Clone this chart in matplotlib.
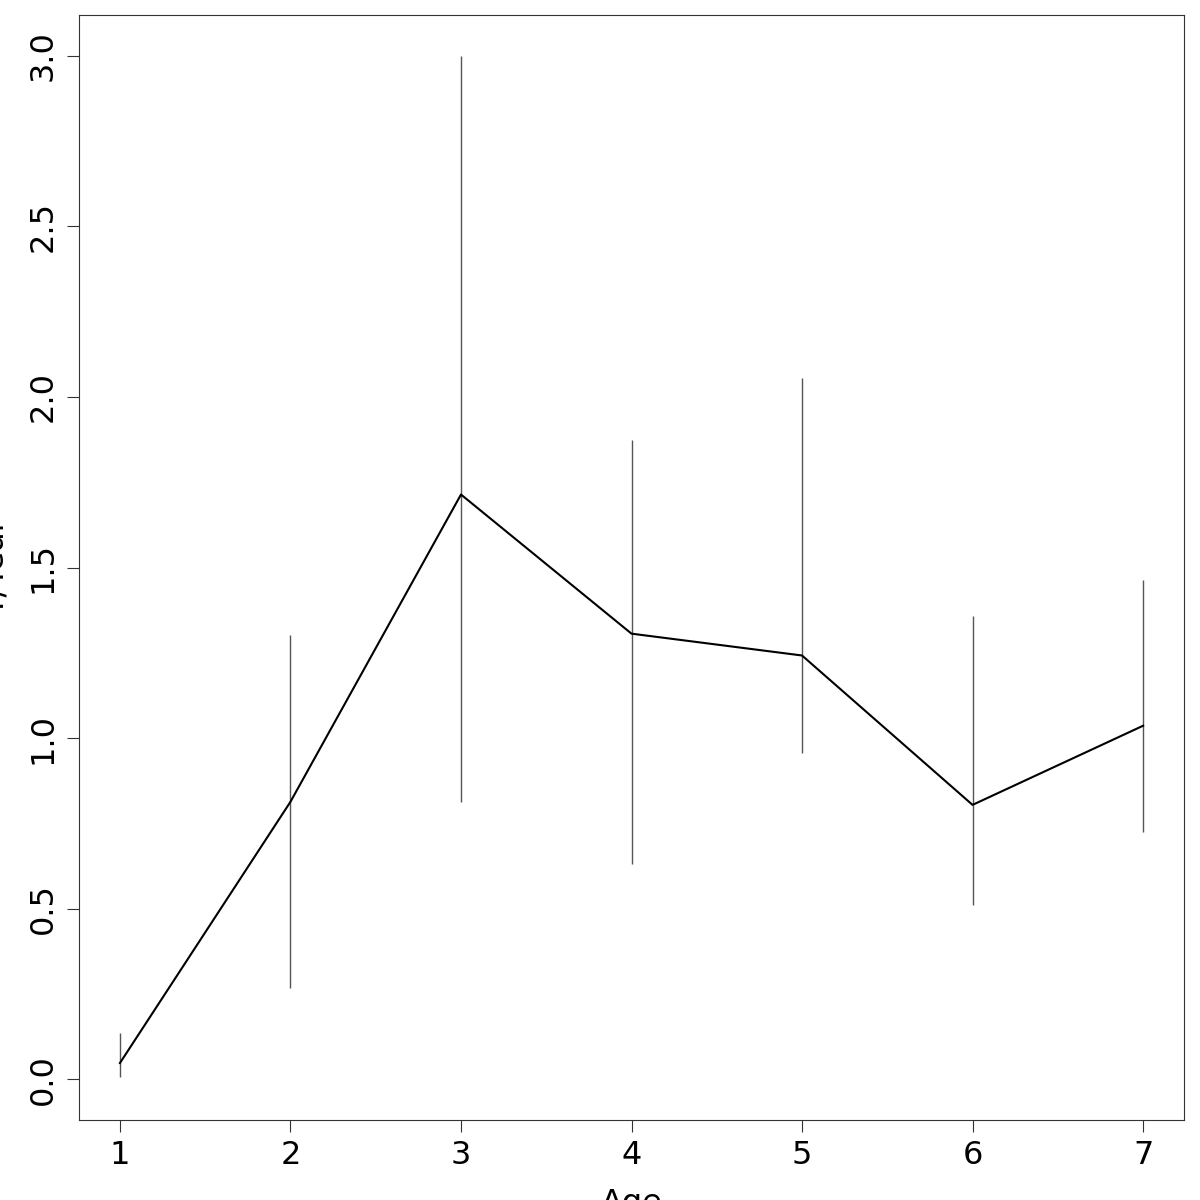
import matplotlib
matplotlib.use("Agg")
import matplotlib.pyplot as plt

ages = [1, 2, 3, 4, 5, 6, 7]
means = [0.047, 0.813, 1.714, 1.306, 1.242, 0.804, 1.036]
lower = [0.006, 0.267, 0.813, 0.631, 0.957, 0.511, 0.725]
upper = [0.135, 1.303, 3.000, 1.873, 2.055, 1.359, 1.462]
yticks = [0.0, 0.5, 1.0, 1.5, 2.0, 2.5, 3.0]

fig = plt.figure(figsize=(12, 12), dpi=100)
ax = fig.add_axes([79/1200, 1 - 1120/1200, (1184-79)/1200, (1120-15)/1200])

ax.vlines(ages, lower, upper, color="#555555", linewidth=1.0)
ax.plot(ages, means, color="black", linewidth=1.5)

ax.set_xlim(0.76, 7.24)
ax.set_ylim(-0.12, 3.12)
ax.set_xticks(ages)
ax.set_xticklabels([str(a) for a in ages])
ax.set_yticks(yticks)
ax.set_yticklabels([f"{v:.1f}" for v in yticks], rotation=90, va="center")
ax.tick_params(labelsize=23, length=8.6, width=0.8, color="#333333", pad=6)

for s in ax.spines.values():
    s.set_color("#333333")
    s.set_linewidth(0.8)

ax.set_xlabel("Age", fontsize=23, labelpad=12)
ax.set_ylabel("Y/Year", fontsize=23, labelpad=12)

fig.savefig("out.png", dpi=100)
